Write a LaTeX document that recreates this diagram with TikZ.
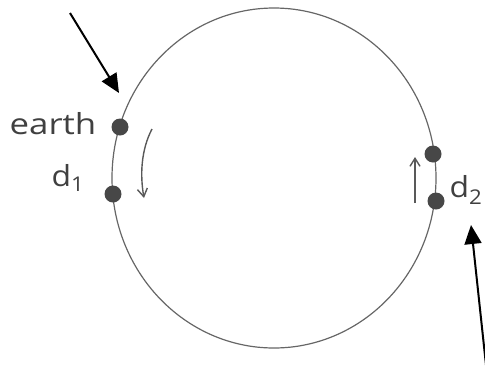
\documentclass[tikz,border=0pt]{standalone}
\usepackage{fontspec}
\setmainfont{Open Sans}
\usetikzlibrary{arrows.meta}
\begin{document}
\begin{tikzpicture}[x=1pt,y=-1pt,
  dotnode/.style={circle,fill=black!72,inner sep=0pt,minimum size=17pt},
  hand/.style={font=\fontsize{29}{29}\selectfont,text=black!75,inner sep=0pt},
  pointer/.style={line width=2pt,-{Triangle[length=19pt,width=17pt]}},
  curvearrow/.style={line width=1.4pt,black!65,-{Straight Barb[length=8pt,width=10pt]}}]
\useasboundingbox (0,0) rectangle (485,365);
\draw[black!60,line width=1.2pt] (274,178) ellipse [x radius=162,y radius=170];
\node[dotnode] (earth) at (120,127) {};
\node[dotnode] (d1) at (113,194) {};
\node[dotnode] (u2) at (433,154) {};
\node[dotnode] (d2) at (436,201) {};
\node[hand,xscale=1.2] (earthlbl) at (53,124) {earth};
\node[hand,xscale=1.1] (d1lbl) at (68,178) {d\textsubscript{1}};
\node[hand,xscale=1.1] (d2lbl) at (466,190) {d\textsubscript{2}};
\coordinate (a1s) at (70,13);
\coordinate (a1e) at (119,93);
\coordinate (a2s) at (486,365);
\coordinate (a2e) at (471,225);
\draw[pointer] (a1s) -- (a1e);
\draw[pointer] (a2s) -- (a2e);
\coordinate (c1s) at (152,129);
\coordinate (c1e) at (144,198);
\draw[curvearrow] (c1s) .. controls (141,150) and (140,175) .. (c1e);
\coordinate (c2s) at (415,203);
\coordinate (c2e) at (415,157);
\draw[curvearrow] (c2s) -- (c2e);
\end{tikzpicture}
\end{document}
